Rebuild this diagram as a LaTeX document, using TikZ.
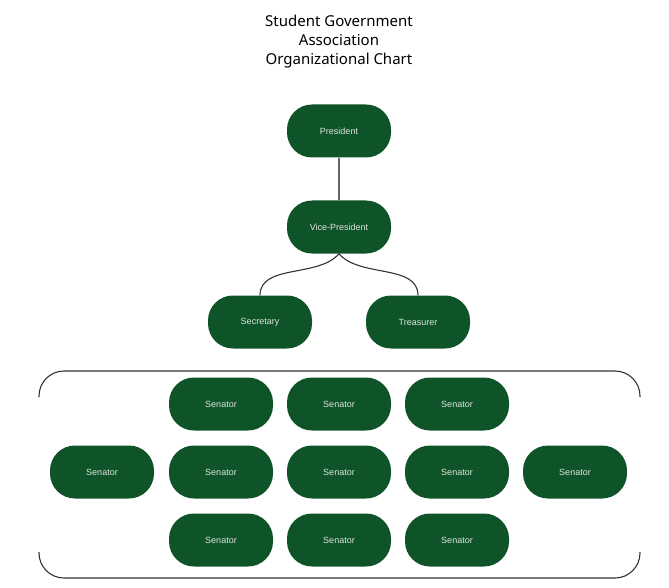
\documentclass[tikz,border=0pt]{standalone}
\usepackage{fontspec}
\setmainfont{Liberation Sans}
\newfontfamily\titlefont{Noto Sans}
\definecolor{sgagreen}{HTML}{0E5428}
\definecolor{sgatext}{HTML}{DCE6DC}
\tikzset{
    orgbox/.style = {fill = sgagreen, rounded corners = 25pt, minimum width = 104pt,
        minimum height = 53pt, text = sgatext, font = \fontsize{9}{11}\selectfont},
    link/.style = {draw = black!80, line width = 1.1pt}
}
\begin{document}
\begin{tikzpicture}[x = 1pt, y = -1pt]
        \useasboundingbox (0,0) rectangle (669,588);
        \node[align = center, font = \titlefont\fontsize{15}{19}\selectfont] (title) at (339,42) {Student Government\\Association\\Organizational Chart};
        \node[orgbox] (pres) at (339,131) {President};
        \node[orgbox] (vp) at (339,227) {Vice-President};
        \node[orgbox] (sec) at (260,322) {Secretary};
        \node[orgbox] (tre) at (418,322) {Treasurer};
        \draw[link, black!60, line width = 1.4pt] (pres) -- (vp);
        \draw[link] (vp.south) to[out = -130, in = 90, looseness = 0.9] (sec.north);
        \draw[link] (vp.south) to[out = -50, in = 90, looseness = 0.9] (tre.north);
        % senate
        \draw[link, rounded corners = 25pt] (39,397) -- (39,371) -- (640,371) -- (640,397);
        \draw[link, rounded corners = 25pt] (39,552) -- (39,578) -- (640,578) -- (640,552);
        \foreach \x [count = \i] in {221, 339, 457} {
            \node[orgbox] (senA\i) at (\x,404) {Senator};
            \node[orgbox] (senC\i) at (\x,540) {Senator};
        }
        \foreach \x [count = \i] in {102, 221, 339, 457, 575} {
            \node[orgbox] (senB\i) at (\x,472) {Senator};
        }
    \end{tikzpicture}
\end{document}
